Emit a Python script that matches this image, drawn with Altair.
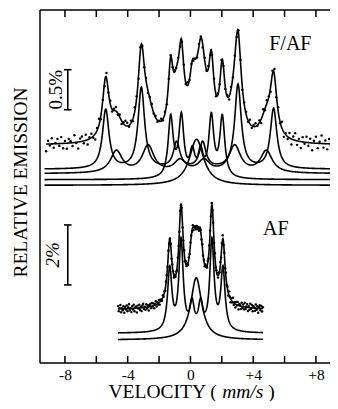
import numpy as np
import pandas as pd
import altair as alt

SERIF = "Liberation Serif"

# ---------------- F/AF spectrum (upper), relative emission in % ----------------
FAF_SHARP_POS = [-5.40, -3.13, -0.88, 0.78, 3.03, 5.30]
FAF_SHARP_AMP = [0.7375, 1.0125, 0.325, 0.325, 1.05, 0.75]
FAF_SHARP_FWHM = 0.50
FAF_BROAD_POS = [-4.72, -2.70, -0.66, 0.86, 2.82, 4.84]
FAF_BROAD_AMP = [0.275, 0.3375, 0.15, 0.15, 0.3375, 0.275]
FAF_BROAD_FWHM = 0.90
FAF_AF_POS = [-1.26, -0.58, 0.12, 0.65, 1.33, 2.03]
FAF_AF_AMP = [0.75, 0.75, 0.30, 0.30, 0.75, 0.75]
FAF_AF_FWHM = 0.38
FAF_CEN_POS = [0.39]
FAF_CEN_AMP = [0.575]
FAF_CEN_FWHM = 1.10
FAF_BASELINES = [-0.30, -0.355, -0.43, -0.50]
# scatter of measured points about the fit, in 0.01 %
FAF_RESID = [
    -9, 4, -2, 7, -5, 1, 6, -3, 8, -6,
    3, -7, 5, 2, -4, 9, -1, -8, 4, 6,
    -3, 7, -6, 2, 5, -2, -7, 3, 8, -4,
    1, -5, 6, -1, 4, -3, 2, 5, -2, 3,
    -4, 2, 6, 4, -2, 3, -3, 5, 2, -4,
    3, 1, -2, 4, -3, 2, 3, -1, 2, -2,
    1, 3, -2, 2, -3, 1, 2, -2, 3, -1,
    2, -3, 1, 3, -2, 4, -1, 2, -3, 1,
    -2, 3, 1, -4, 2, -1, 3, -2, 1, 2,
    -3, 2, -1, 3, 1, -2, 2, -4, 3, -1,
    2, -2, 4, 1, -3, 2, 3, -2, 5, -3,
    2, 4, -1, 3, -5, 6, -2, 4, 1, -6,
    3, 7, -4, 5, -2, 8, -6, 2, -3, 6,
    -7, 4, 9, -5, 3, -8, 6, -2, 7, -4,
    5, -9, 3, 8, -6, 2, 10, -5, 4, -7,
    6, -3, 8, -10,
]
FAF_RANGE = [-9.2, 9.2]
FAF_CURVE_RANGE = [-9.3, 9.4]

# ---------------- AF spectrum (lower), relative emission in % ----------------
AF_AF_POS = [-1.32, -0.60, 0.10, 0.65, 1.37, 2.07]
AF_AF_AMP = [2.07, 3.00, 0.87, 0.87, 3.00, 2.07]
AF_AF_FWHM = 0.33
AF_CEN_POS = [0.37]
AF_CEN_AMP = [2.07]
AF_CEN_FWHM = 0.85
AF_BASELINES = [-0.78, -1.00]
AF_RESID = [
    8, -6, 3, 11, -9, 2, -4, 7, -11, 5,
    -2, 9, -7, 4, 12, -5, 1, -10, 6, -3,
    10, -8, 2, 5, -12, 7, -1, 9, -6, 3,
    -9, 6, 11, -4, 2, -7, 8, -3, 5, -10,
    4, 7, -5, 9, -2, 6, -8, 3, 10, -6,
    5, -3, 8, -7, 4, 2, -5, 6, -4, 3,
    -6, 5, 2, -3, 7, -4, 1, 5, -6, 4,
    3, -5, 6, -2, 4, -7, 5, 3, -4, 6,
    -3, 7, -5, 2, 6, -4, 8, -2, 5, -6,
    4, -3, 7, 2, -5, 6, -7, 3, 5, -4,
    6, -2, 4, -6, 3, 5, -4, 7, -3, 2,
    -5, 6, 3, -4, 5, -6, 2, 4, -3, 6,
    -4, 5, -2, 7, -6, 3, 4, -5, 6, -3,
    8, -6, 4, 9, -7, 3, -5, 10, -4, 6,
    -8, 11, 2, -9, 5, -3, 12, -6, 4, -10,
    7, -2, 9, -11, 5, 3, -8, 10, -4, 6,
    -7, 12, -5, 2, 9, -10, 4, -6, 11, -3,
    8, -9, 5, 2, -7, 10, -4, 6, -12, 3,
    9, -5, 7, -8, 4,
]
AF_RANGE = [-4.62, 4.62]

# axis ticks, scale bars and labels
TICKS = [-8, -6, -4, -2, 0, 2, 4, 6, 8]
TICK_LABELS = [-8, -4, 0, 4, 8]
BAR_TOP = {"v": -7.82, "y1": 0.944, "y2": 0.444, "label": "0.5%", "lv": -8.58}
BAR_BOT = {"v": -7.82, "y1": 2.833, "y2": 0.833, "label": "2%", "lv": -8.74}
TITLE_TOP = {"v": 6.37, "y": 1.27, "t": "F/AF"}
TITLE_BOT = {"v": 5.44, "y": 2.70, "t": "AF"}


def lor(v, pos, amp, fwhm):
    v = np.asarray(v, dtype=float)[:, None]
    p = np.asarray(pos, dtype=float)[None, :]
    a = np.asarray(amp, dtype=float)[None, :]
    return (a / (1.0 + ((v - p) / (fwhm / 2.0)) ** 2)).sum(axis=1)


faf_comps = [
    (FAF_SHARP_POS, FAF_SHARP_AMP, FAF_SHARP_FWHM),
    (FAF_BROAD_POS, FAF_BROAD_AMP, FAF_BROAD_FWHM),
    (FAF_AF_POS, FAF_AF_AMP, FAF_AF_FWHM),
    (FAF_CEN_POS, FAF_CEN_AMP, FAF_CEN_FWHM),
]
af_comps = [
    (AF_AF_POS, AF_AF_AMP, AF_AF_FWHM),
    (AF_CEN_POS, AF_CEN_AMP, AF_CEN_FWHM),
]


def build(comps, baselines, rng, crng, resid, rscale, n=700):
    rows = []
    vfit = np.linspace(rng[0], rng[1], n)
    tot = sum(lor(vfit, *c) for c in comps)
    rows += [{"v": a, "y": b, "curve": "fit"} for a, b in zip(vfit, tot)]
    vc = np.linspace(crng[0], crng[1], n)
    for i, (c, base) in enumerate(zip(comps, baselines)):
        yc = lor(vc, *c) + base
        rows += [{"v": a, "y": b, "curve": f"c{i}"} for a, b in zip(vc, yc)]
    curves = pd.DataFrame(rows)
    vp = np.linspace(rng[0], rng[1], len(resid))
    yp = sum(lor(vp, *c) for c in comps) + np.asarray(resid) * rscale
    pts = pd.DataFrame({"v": vp, "y": yp})
    return curves, pts


faf_curves, faf_pts = build(faf_comps, FAF_BASELINES, FAF_RANGE, FAF_CURVE_RANGE, FAF_RESID, 0.01)
af_curves, af_pts = build(af_comps, AF_BASELINES, AF_RANGE, AF_RANGE, AF_RESID, 0.012)

W, H = 290, 353
XMIN = -9.59
XMAX = XMIN + W / 15.6875
xs = alt.Scale(domain=[XMIN, XMAX], nice=False, zero=False)
xaxis = alt.Axis(
    values=TICK_LABELS,
    labelExpr="datum.value > 0 ? '+' + datum.value : '' + datum.value",
    ticks=False, tickSize=0, domain=False, grid=False, title=None,
    labelFont=SERIF, labelFontSize=15.5, labelColor="black", labelPadding=4,
)


def X(f):
    return alt.X(f, type="quantitative", scale=xs, axis=xaxis)


def group(curves, pts, bar, ttl, domain, label_italic):
    ys = alt.Scale(domain=domain, nice=False, zero=False)

    def Y(f):
        return alt.Y(f, type="quantitative", scale=ys, axis=None)

    lines = alt.Chart(curves).mark_line(color="black", strokeWidth=1.6).encode(
        x=X("v"), y=Y("y"), detail="curve:N"
    )
    dots = alt.Chart(pts).mark_circle(color="black", size=6, opacity=1).encode(
        x=X("v"), y=Y("y")
    )
    bdf = pd.DataFrame([bar])
    rule = alt.Chart(bdf).mark_rule(color="black", strokeWidth=1.6).encode(
        x=X("v"), y=Y("y1"), y2="y2:Q"
    )
    caps = pd.DataFrame({"x1": [bar["v"] - 0.24] * 2, "x2": [bar["v"] + 0.24] * 2,
                         "y": [bar["y1"], bar["y2"]]})
    caprule = alt.Chart(caps).mark_rule(color="black", strokeWidth=1.6).encode(
        x=X("x1"), x2="x2:Q", y=Y("y")
    )
    ldf = pd.DataFrame({"v": [bar["lv"]], "y": [(bar["y1"] + bar["y2"]) / 2], "t": [bar["label"]]})
    lab = alt.Chart(ldf).mark_text(
        font=SERIF, fontSize=19, angle=270, align="center", baseline="middle",
        color="black", fontStyle="italic" if label_italic else "normal",
    ).encode(x=X("v"), y=Y("y"), text="t:N")
    tdf = pd.DataFrame([ttl])
    tt = alt.Chart(tdf).mark_text(
        font=SERIF, fontSize=20, align="center", baseline="middle", color="black"
    ).encode(x=X("v"), y=Y("y"), text="t:N")
    return alt.layer(lines, dots, rule, caprule, lab, tt)


top = group(faf_curves, faf_pts, BAR_TOP, TITLE_TOP, [-2.72, 1.69], False)
bot = group(af_curves, af_pts, BAR_BOT, TITLE_BOT, [-1.77, 10.0], True)

one = pd.DataFrame({"a": [0]})
frame_left = alt.Chart(one).mark_rule(color="black", strokeWidth=1.5).encode(
    x=alt.value(0), y=alt.value(0), y2=alt.value(H))
frame_top = alt.Chart(one).mark_rule(color="black", strokeWidth=1.5).encode(
    x=alt.value(0), x2=alt.value(W + 2), y=alt.value(0))
frame_bot = alt.Chart(one).mark_rule(color="black", strokeWidth=1.5).encode(
    x=alt.value(0), x2=alt.value(W + 2), y=alt.value(H))

tdf = pd.DataFrame({"t": TICKS})
ticks_bot = alt.Chart(tdf).mark_rule(color="black", strokeWidth=1.5).encode(
    x=X("t"), y=alt.value(H - 7), y2=alt.value(H))
ticks_top = alt.Chart(tdf).mark_rule(color="black", strokeWidth=1.5).encode(
    x=X("t"), y=alt.value(0), y2=alt.value(7))

ytitle = alt.Chart(pd.DataFrame({"t": ["RELATIVE EMISSION"]})).mark_text(
    font=SERIF, fontSize=19.5, angle=270, align="center", baseline="middle", color="black"
).encode(x=alt.value(-19), y=alt.value(172.5), text="t:N")

TY = H + 34.5
xt1 = alt.Chart(pd.DataFrame({"t": ["VELOCITY ("]})).mark_text(
    font=SERIF, fontSize=19.5, align="left", baseline="alphabetic", color="black"
).encode(x=alt.value(68.5), y=alt.value(TY), text="t:N")
xt2 = alt.Chart(pd.DataFrame({"t": ["mm/s"]})).mark_text(
    font=SERIF, fontSize=19.5, fontStyle="italic", align="left", baseline="alphabetic", color="black"
).encode(x=alt.value(182.2), y=alt.value(TY), text="t:N")
xt3 = alt.Chart(pd.DataFrame({"t": [")"]})).mark_text(
    font=SERIF, fontSize=19.5, align="left", baseline="alphabetic", color="black"
).encode(x=alt.value(228.3), y=alt.value(TY), text="t:N")

chart = alt.layer(
    frame_left, frame_top, frame_bot, ticks_bot, ticks_top,
    top, bot, ytitle, xt1, xt2, xt3,
).resolve_scale(y="independent").properties(
    width=W, height=H,
    autosize=alt.AutoSizeParams(type="none"),
    padding={"left": 32, "top": 2, "right": 0, "bottom": 38},
    background="white",
).configure_view(stroke=None)

chart.save("out.html", embed_options={"renderer": "svg", "actions": False})
